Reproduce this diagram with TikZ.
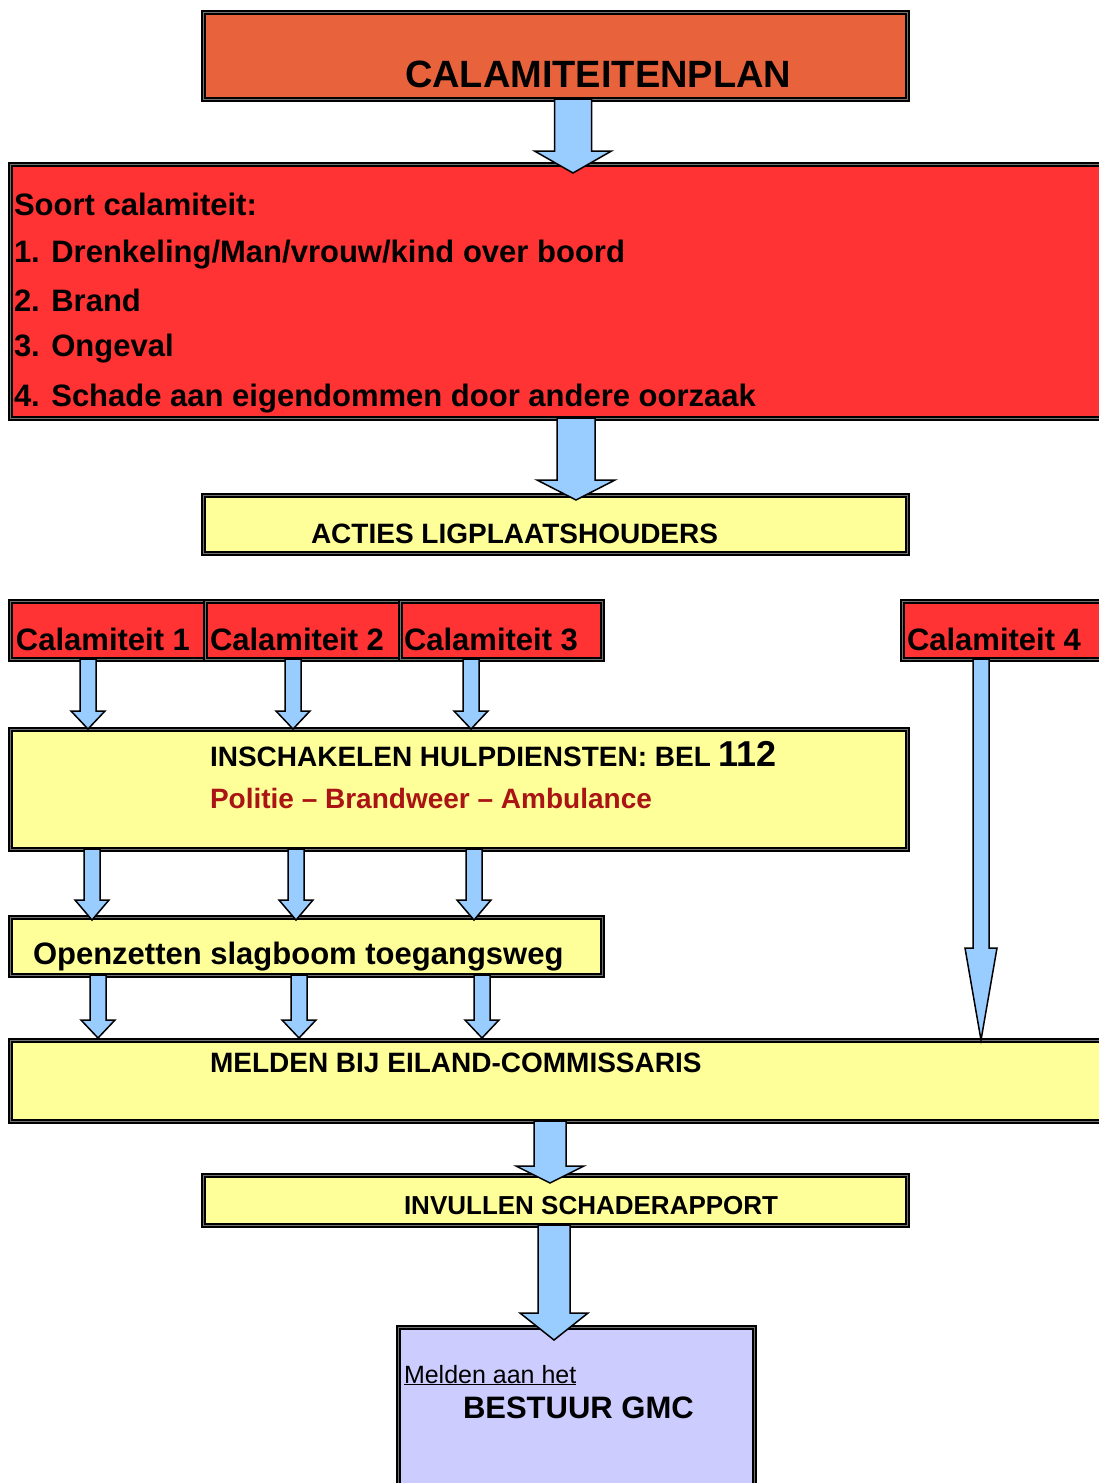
\documentclass[tikz,border=0pt]{standalone}
\usepackage{fontspec}
\setmainfont{Liberation Sans}
\usetikzlibrary{calc}
\definecolor{topc}{RGB}{232,98,60}
\definecolor{redc}{RGB}{255,51,51}
\definecolor{yelc}{RGB}{255,255,153}
\definecolor{lavc}{RGB}{204,204,255}
\definecolor{arrc}{RGB}{153,204,255}
\definecolor{dredc}{RGB}{170,20,20}
\newcommand\fsz[1]{\fontsize{#1}{#1}\selectfont}
\newcommand\barrow[5]{%
  \draw[blockarrow] let \p1=(#1), \p2=(#2) in
    (\x1-#3pt,\y1) -- (\x1+#3pt,\y1) -- (\x1+#3pt,\y2+#5pt) -- (\x1+#4pt,\y2+#5pt)
    -- (\x1,\y2) -- (\x1-#4pt,\y2+#5pt) -- (\x1-#3pt,\y2+#5pt) -- cycle;}
\begin{document}
\begin{tikzpicture}[x=1pt,y=-1pt,
  box/.style={draw=black, line width=2pt, double=black!55, double distance=1pt,
    rectangle, anchor=north west, inner sep=0pt, outer sep=0pt},
  lbl/.style={anchor=base west, inner sep=0pt, outer sep=0pt},
  blockarrow/.style={draw=black, line width=1.5pt, fill=arrc, line join=miter}]
\clip (0,0) rectangle (1099,1483);
\fill[white] (0,0) rectangle (1099,1483);

% boxes
\node[box, fill=topc, minimum width=704pt, minimum height=87pt] (top) at (203,12) {};
\node[box, fill=redc, minimum width=1110pt, minimum height=254pt] (soort) at (10,164) {};
\node[box, fill=yelc, minimum width=704pt, minimum height=58pt] (acties) at (203,495) {};
\node[box, fill=redc, minimum width=195pt, minimum height=58pt] (cal1) at (10,601) {};
\node[box, fill=redc, minimum width=195pt, minimum height=58pt] (cal2) at (205,601) {};
\node[box, fill=redc, minimum width=202pt, minimum height=58pt] (cal3) at (400,601) {};
\node[box, fill=redc, minimum width=220pt, minimum height=58pt] (cal4) at (902,601) {};
\node[box, fill=yelc, minimum width=897pt, minimum height=120pt] (insch) at (10,729) {};
\node[box, fill=yelc, minimum width=592pt, minimum height=58pt] (open) at (10,917) {};
\node[box, fill=yelc, minimum width=1110pt, minimum height=81pt] (melden) at (10,1040) {};
\node[box, fill=yelc, minimum width=704pt, minimum height=50pt] (invul) at (203,1175) {};
\node[box, fill=lavc, minimum width=356pt, minimum height=180pt] (bestuur) at (398,1327) {};

% texts
\node[lbl, font=\bfseries\fsz{38}] (topT) at (405,87) {CALAMITEITENPLAN};
\node[lbl, font=\bfseries\fsz{31}] (s0) at (14,215) {Soort calamiteit:};
\node[lbl, font=\bfseries\fsz{31}] (s1) at (14,262) {1. Drenkeling/Man/vrouw/kind over boord};
\node[lbl, font=\bfseries\fsz{31}] (s2) at (14,311) {2. Brand};
\node[lbl, font=\bfseries\fsz{31}] (s3) at (14,356) {3. Ongeval};
\node[lbl, font=\bfseries\fsz{31}] (s4) at (14,406) {4. Schade aan eigendommen door andere oorzaak};
\node[lbl, font=\bfseries\fsz{28}] (actT) at (311,543) {ACTIES LIGPLAATSHOUDERS};
\node[lbl, font=\bfseries\fsz{31}] (c1T) at (16,650) {Calamiteit 1};
\node[lbl, font=\bfseries\fsz{31}] (c2T) at (210,650) {Calamiteit 2};
\node[lbl, font=\bfseries\fsz{31}] (c3T) at (404,650) {Calamiteit 3};
\node[lbl, font=\bfseries\fsz{31}] (c4T) at (907,650) {Calamiteit 4};
\node[lbl, font=\bfseries\fsz{28}] (inT) at (210,766) {INSCHAKELEN HULPDIENSTEN: BEL {\fsz{36}112}};
\node[lbl, font=\bfseries\fsz{28}, text=dredc] (polT) at (210,808) {Politie – Brandweer – Ambulance};
\node[lbl, font=\bfseries\fsz{31}] (opT) at (33,964) {Openzetten slagboom toegangsweg};
\node[lbl, font=\bfseries\fsz{28}] (melT) at (210,1072) {MELDEN BIJ EILAND-COMMISSARIS};
\node[lbl, font=\bfseries\fsz{26}] (invT) at (404,1214) {INVULLEN SCHADERAPPORT};
\node[lbl, font=\fsz{25}] (mahT) at (404,1383) {\underline{Melden aan het}};
\node[lbl, font=\bfseries\fsz{31}] (gmcT) at (463,1418) {BESTUUR GMC};

% block arrows
\barrow{[xshift=370pt]top.south west}{[yshift=-9pt]soort.north}{18.5}{38.5}{22}
\barrow{[xshift=566pt]soort.south west}{[yshift=-5pt]acties.north}{19}{39}{20}
\barrow{[xshift=78pt]cal1.south west}{insch.north}{8}{17}{18}
\barrow{[xshift=88pt]cal2.south west}{insch.north}{8}{17}{18}
\barrow{[xshift=71pt]cal3.south west}{insch.north}{8}{17}{18}
\barrow{[xshift=79pt]cal4.south west}{melden.north}{8}{16}{92}
\barrow{[xshift=82pt]insch.south west}{[yshift=-3pt]open.north}{8}{17}{20}
\barrow{[xshift=286pt]insch.south west}{[yshift=-3pt]open.north}{8}{17}{20}
\barrow{[xshift=464pt]insch.south west}{[yshift=-3pt]open.north}{8}{17}{20}
\barrow{[xshift=88pt]open.south west}{[yshift=2pt]melden.north}{8}{17}{18}
\barrow{[xshift=289pt]open.south west}{[yshift=2pt]melden.north}{8}{17}{18}
\barrow{[xshift=472pt]open.south west}{[yshift=2pt]melden.north}{8}{17}{18}
\barrow{[xshift=540pt]melden.south west}{[yshift=-8pt]invul.north}{16}{34}{17}
\barrow{[xshift=351pt]invul.south west}{[yshift=-13pt]bestuur.north}{16}{34}{27}
\end{tikzpicture}
\end{document}
